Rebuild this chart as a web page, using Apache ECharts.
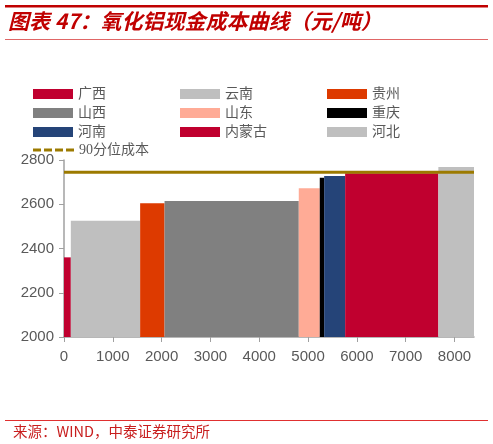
<!DOCTYPE html>
<html>
<head>
<meta charset="utf-8">
<script src="https://cdn.jsdelivr.net/npm/echarts@6/dist/echarts.min.js"></script>
<style>
html,body{margin:0;padding:0;background:#fff;}
#c{width:493px;height:444px;}
</style>
</head>
<body>
<div id="c"></div>
<script>
// ---- data ----
const regions = ['广西','云南','贵州','山西','山东','重庆','河南','内蒙古','河北'];
const capacity = [140, 1420, 500, 2750, 430, 90, 430, 1910, 730];   // 产能宽度
const cashCost = [2360, 2525, 2605, 2615, 2672, 2720, 2728, 2740, 2768]; // 元/吨
const colors = ['#C0002F','#BFBFBF','#DD3A00','#808080','#FFAB96','#000000','#254478','#C0002F','#BFBFBF'];
const p90Name = '90分位成本';
const p90Value = 2745;
const xTicks = [0,1000,2000,3000,4000,5000,6000,7000,8000];
const yTicks = [2000,2200,2400,2600,2800];

// ---- build ----
let acc = 0;
const spans = capacity.map(w => { const s = acc; acc += w; return [s, acc]; });
const totalCap = acc;

const legendCols = [[0,3,6],[1,4,7],[2,5,8]];
const legendLeft = [28, 175, 322];
const legendText = {color:'#595959', fontSize:14, fontFamily:'Liberation Serif, "Noto Sans CJK SC", serif', lineHeight:16};

const series = regions.map((name, i) => ({
  name: name,
  type: 'custom',
  itemStyle: {color: colors[i]},
  encode: {x: [0,1], y: 2},
  data: [[spans[i][0], spans[i][1], cashCost[i]]],
  renderItem: function (params, api) {
    const p0 = api.coord([api.value(0), api.value(2)]);
    const p1 = api.coord([api.value(1), 2000]);
    return {
      type: 'rect',
      shape: {x: p0[0], y: p0[1], width: p1[0] - p0[0], height: p1[1] - p0[1]},
      style: api.style()
    };
  },
  z: 2
}));
series.push({
  name: p90Name,
  type: 'line',
  symbol: 'none',
  data: [[0, p90Value], [totalCap, p90Value]],
  lineStyle: {color: '#9C7A00', width: 3},
  itemStyle: {color: '#9C7A00'},
  z: 5
});

const legends = legendCols.map((col, k) => ({
  orient: 'vertical',
  left: legendLeft[k],
  top: 81,
  itemWidth: 40,
  itemHeight: 10,
  itemGap: 3,
  icon: 'rect',
  textStyle: legendText,
  data: col.map(i => regions[i])
}));
legends.push({
  left: 28,
  top: 137,
  itemWidth: 41,
  itemHeight: 3,
  textStyle: legendText,
  data: [{name: p90Name, icon: 'path://M0,0H8V3H0Z M11,0H19V3H11Z M22,0H30V3H22Z M33,0H41V3H33Z', itemStyle: {color: '#9C7A00'}}]
});

const plain = v => String(v);

const chart = echarts.init(document.getElementById('c'), null, {renderer: 'canvas'});
chart.setOption({
  animation: false,
  backgroundColor: '#fff',
  graphic: [
    {type:'rect', shape:{x:5, y:5, width:483, height:2.5}, style:{fill:'#C00000'}},
    {type:'text', left: 8, top: 11, style:{text:'图表 47：氧化铝现金成本曲线（元/吨）', fill:'#C00000', font:'italic bold 21px "Noto Sans CJK SC", sans-serif'}},
    {type:'rect', shape:{x:5, y:39, width:483, height:1}, style:{fill:'#E06666'}},
    {type:'rect', shape:{x:5, y:420, width:483, height:1}, style:{fill:'#E03030'}},
    {type:'text', left: 13, top: 424, style:{text:'来源：WIND，中泰证券研究所', fill:'#C81E1E', font:'14.5px "Noto Sans CJK SC", sans-serif'}}
  ],
  legend: legends,
  grid: {left: 64, right: 19, top: 160, bottom: 107, containLabel: false},
  xAxis: {
    type: 'value',
    min: 0, max: totalCap, interval: 1000,
    splitLine: {show: false},
    axisLine: {lineStyle: {color: '#A0A0A0', width: 1.5}},
    axisTick: {show: true, length: 5, lineStyle: {color: '#A0A0A0'}, customValues: xTicks},
    axisLabel: {color: '#595959', fontSize: 15, fontFamily: 'Arial, "Liberation Sans", sans-serif', margin: 12, customValues: xTicks, formatter: plain}
  },
  yAxis: {
    type: 'value',
    min: 2000, max: 2800, interval: 200,
    splitLine: {show: false},
    axisLine: {show: true, lineStyle: {color: '#A0A0A0', width: 1.5}},
    axisTick: {show: true, length: 5, lineStyle: {color: '#A0A0A0'}},
    axisLabel: {color: '#595959', fontSize: 15, fontFamily: 'Arial, "Liberation Sans", sans-serif', margin: 10, customValues: yTicks, formatter: plain}
  },
  series: series
});
</script>
</body>
</html>
